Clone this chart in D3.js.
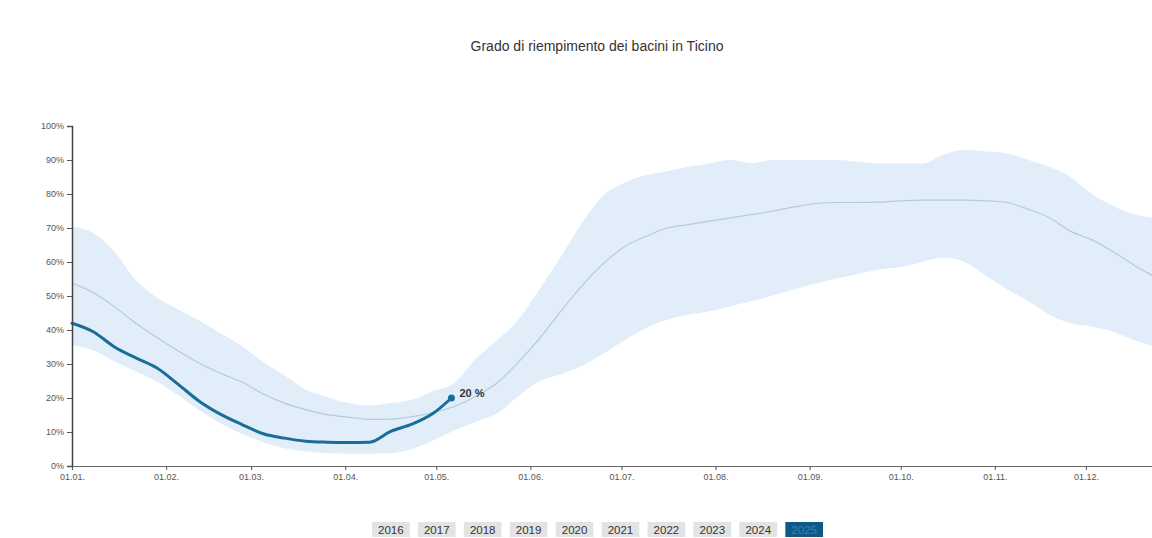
<!DOCTYPE html>
<html><head><meta charset="utf-8">
<script src="https://cdn.jsdelivr.net/npm/d3@7"></script>
<style>
body{margin:0;background:#fff;font-family:"Liberation Sans",Arial,sans-serif;}
svg{display:block;}
</style></head>
<body>
<svg id="c" width="1152" height="538"></svg>
<script>
// Day offsets from 1 January (weekly)
const days = d3.range(0, 365, 7);
const upper = [70.5,68.5,63,54.7,49.5,46,42.7,39,35.3,30.5,26.7,22.5,20.3,18.5,17.8,18.5,19.5,22,24.5,31.5,37,43,52,61.5,71.5,79.5,83.3,85.5,86.7,88,89,90,89,90,90,90,90,89.5,89,89,89,91.5,93,92.5,92,90,88,85,80,76.5,74,73,72.5];
const median = [53.8,51,46.8,42,37.8,33.8,30.2,27.2,24.7,21.2,18.5,16.6,15.1,14.4,13.7,13.8,14.5,15.8,17.5,20.5,24.4,30.5,37.5,45.5,53,59.5,64.5,67.5,70,71,72,73,74,75,76.2,77.2,77.5,77.5,77.6,78,78.2,78.2,78.2,78,77.5,75.5,73,69,66.5,63,59,55.5,52];
const lower = [35.5,34,30.8,27.8,24.8,20.8,16.3,12.5,9.5,7,5.2,4.3,3.8,3.6,3.6,3.8,5,7.5,10.5,13,15.5,20.5,25,27,29.5,33,37,40.5,43,44.5,45.5,47,48.5,50.2,52,53.7,55.2,56.5,57.8,58.5,60,61.3,60,56,52,48.5,44.5,42,41,39.5,37,35,33];
const days2025 = [0,7,14,21,28,35,42,49,56,63,70,77,84,91,98,105,112,119,125];
const values2025 = [42,39.5,35,31.8,28.8,24,19,15.2,12.2,9.5,8.2,7.3,7,6.9,7,10.2,12.3,15.5,20];
const yTicks = [0,10,20,30,40,50,60,70,80,90,100];
const years = ["2016","2017","2018","2019","2020","2021","2022","2023","2024","2025"];
const selectedYear = "2025";
const title = "Grado di riempimento dei bacini in Ticino";

const svg = d3.select("#c");
const start = new Date(2025,0,1);
const toDate = d => d3.timeDay.offset(start, d);

const x = d3.scaleTime().domain([start, new Date(2026,0,1)]).range([72, 1180]);
const y = d3.scaleLinear().domain([0,100]).range([466,126]);

svg.append("text").attr("x",597).attr("y",51).attr("text-anchor","middle")
  .attr("font-size",14).attr("fill","#333").text(title);

const band = days.map((d,i)=>({d, lo:lower[i], hi:upper[i], m:median[i]}));
const gPlot = svg.append("g");
gPlot.append("path").datum(band)
  .attr("fill","#deebf7").attr("opacity",0.9)
  .attr("d", d3.area().curve(d3.curveMonotoneX)
    .x(p=>x(toDate(p.d))).y0(p=>y(p.lo)).y1(p=>y(p.hi)));
gPlot.append("path").datum(band)
  .attr("fill","none").attr("stroke","#b3cbdd").attr("stroke-width",1.2)
  .attr("d", d3.line().curve(d3.curveMonotoneX).x(p=>x(toDate(p.d))).y(p=>y(p.m)));

const cur = days2025.map((d,i)=>({d, v:values2025[i]}));
gPlot.append("path").datum(cur)
  .attr("fill","none").attr("stroke","#1a6d98").attr("stroke-width",3)
  .attr("stroke-linejoin","round").attr("stroke-linecap","round")
  .attr("d", d3.line().curve(d3.curveMonotoneX).x(p=>x(toDate(p.d))).y(p=>y(p.v)));
const last = cur[cur.length-1];
gPlot.append("circle").attr("cx",x(toDate(last.d))).attr("cy",y(last.v)).attr("r",3.5).attr("fill","#1a6d98");
gPlot.append("text").attr("x",x(toDate(last.d))+8).attr("y",y(last.v)-1)
  .attr("font-size",11).attr("font-weight","bold").attr("fill","#333").text(Math.round(last.v)+" %");

// Axes
const yAxis = d3.axisLeft(y).tickValues(yTicks).tickFormat(d=>d+"%").tickSize(5).tickPadding(3);
const gy = svg.append("g").attr("transform","translate(72,0)").call(yAxis);
gy.select(".domain").attr("stroke","#444").attr("stroke-width",1.5);
gy.selectAll(".tick line").attr("stroke","#555");
gy.selectAll("text").attr("font-size",9).attr("fill","#555").attr("font-family","Liberation Sans, Arial, sans-serif");

const monthTicks = d3.timeMonth.range(start, new Date(2025,11,2));
const xAxis = d3.axisBottom(x).tickValues(monthTicks).tickFormat(d3.timeFormat("%d.%m.")).tickSize(4).tickPadding(4);
const gx = svg.append("g").attr("transform","translate(0,466)").call(xAxis);
gx.select(".domain").attr("stroke","#666").attr("stroke-width",1.2);
gx.selectAll(".tick line").attr("stroke","#555");
gx.selectAll("text").attr("font-size",9).attr("fill","#555").attr("font-family","Liberation Sans, Arial, sans-serif");

// Year selector
const bx = d3.scaleBand().domain(years).range([372, 823]).paddingInner(0.18);
const gb = svg.append("g");
const btn = gb.selectAll("g").data(years).join("g").attr("transform",d=>`translate(${bx(d)},522)`);
btn.append("rect").attr("width",bx.bandwidth()).attr("height",15)
  .attr("fill",d=>d===selectedYear?"#0d5a88":"#e3e3e3");
btn.append("text").attr("x",bx.bandwidth()/2).attr("y",12).attr("text-anchor","middle")
  .attr("font-size",11.5).attr("fill",d=>d===selectedYear?"#3d7fae":"#333").text(d=>d);
</script>
</body></html>
